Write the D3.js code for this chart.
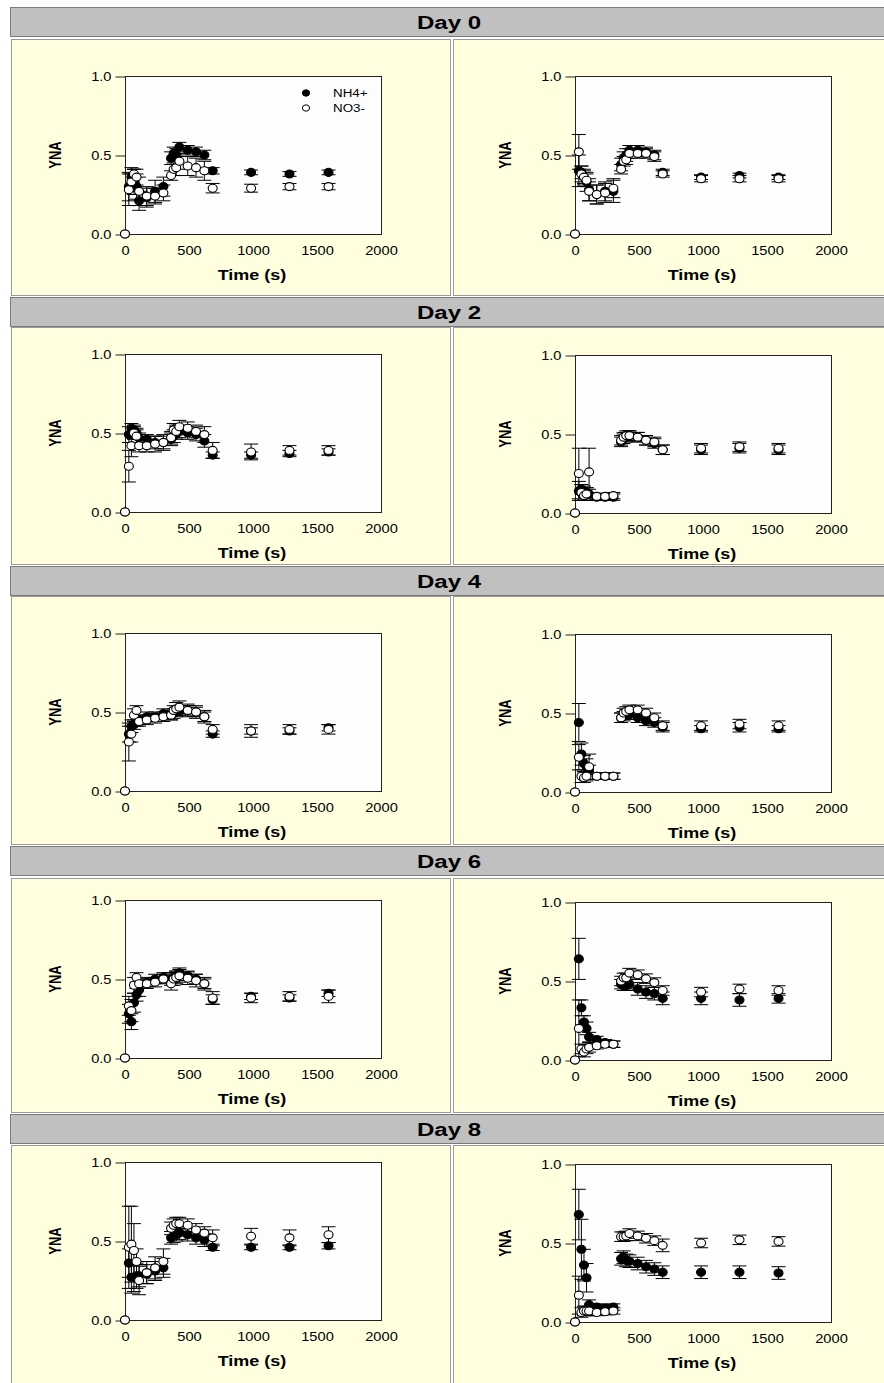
<!DOCTYPE html>
<html>
<head>
<meta charset="utf-8">
<script src="https://cdn.jsdelivr.net/npm/d3@7"></script>
<style>
  body { margin: 0; background: #fff; }
  svg { display: block; }
  text { font-family: Arial, "Liberation Sans", sans-serif; fill: #000; }
</style>
</head>
<body>
<div id="chart"></div>
<script>
// ---- data ----
const days = ["Day 0", "Day 2", "Day 4", "Day 6", "Day 8"];
const timeS = [0, 30, 50, 70, 90, 110, 170, 235, 300, 360, 380, 400, 425, 490, 555, 620, 685, 985, 1285, 1590];
const xTicks = [0, 500, 1000, 1500, 2000];
const yTicks = [0, 0.5, 1.0];
const seriesNames = ["NH4+", "NO3-"];

// a = left column, b = right column
const nh4_d0a = [0, 0.30, 0.36, 0.33, 0.30, 0.21, 0.23, 0.27, 0.30, 0.48, 0.51, 0.50, 0.55, 0.53, 0.52, 0.50, 0.40, 0.39, 0.38, 0.39];
const nh4_d0a_se = [0, 0.09, 0.06, 0.08, 0.08, 0.06, 0.06, 0.07, 0.06, 0.04, 0.04, 0.04, 0.03, 0.03, 0.03, 0.03, 0.02, 0.015, 0.015, 0.015];
const no3_d0a = [0, 0.28, 0.33, 0.38, 0.36, 0.27, 0.24, 0.24, 0.26, 0.37, 0.41, 0.42, 0.46, 0.43, 0.42, 0.40, 0.29, 0.29, 0.30, 0.30];
const no3_d0a_se = [0, 0.10, 0.05, 0.03, 0.05, 0.09, 0.06, 0.05, 0.05, 0.03, 0.04, 0.05, 0.05, 0.06, 0.06, 0.06, 0.03, 0.025, 0.02, 0.02];

const nh4_d0b = [0, 0.40, 0.39, 0.36, 0.33, 0.28, 0.25, 0.27, 0.27, 0.44, 0.48, 0.50, 0.53, 0.53, 0.52, 0.50, 0.39, 0.36, 0.37, 0.36];
const nh4_d0b_se = [0, 0.10, 0.04, 0.05, 0.06, 0.07, 0.06, 0.06, 0.07, 0.04, 0.04, 0.04, 0.03, 0.03, 0.03, 0.03, 0.02, 0.015, 0.015, 0.015];
const no3_d0b = [0, 0.52, 0.38, 0.36, 0.34, 0.27, 0.25, 0.26, 0.29, 0.41, 0.46, 0.47, 0.51, 0.51, 0.51, 0.49, 0.38, 0.35, 0.35, 0.35];
const no3_d0b_se = [0, 0.11, 0.05, 0.04, 0.04, 0.06, 0.06, 0.06, 0.06, 0.03, 0.03, 0.03, 0.03, 0.03, 0.03, 0.03, 0.02, 0.02, 0.02, 0.02];

const nh4_d2a = [0, 0.49, 0.53, 0.52, 0.50, 0.47, 0.46, 0.44, 0.44, 0.46, 0.48, 0.50, 0.51, 0.50, 0.49, 0.45, 0.36, 0.36, 0.37, 0.38];
const nh4_d2a_se = [0, 0.05, 0.03, 0.03, 0.03, 0.03, 0.03, 0.04, 0.04, 0.04, 0.04, 0.04, 0.04, 0.04, 0.04, 0.04, 0.02, 0.02, 0.02, 0.02];
const no3_d2a = [0, 0.29, 0.42, 0.50, 0.48, 0.42, 0.42, 0.43, 0.44, 0.47, 0.52, 0.51, 0.54, 0.53, 0.51, 0.49, 0.39, 0.38, 0.39, 0.39];
const no3_d2a_se = [0, 0.10, 0.07, 0.04, 0.04, 0.04, 0.04, 0.05, 0.05, 0.04, 0.04, 0.04, 0.04, 0.04, 0.04, 0.05, 0.05, 0.05, 0.03, 0.03];

const nh4_d2b = [0, 0.14, 0.15, 0.14, 0.13, 0.12, 0.10, 0.10, 0.10, 0.45, 0.47, 0.48, 0.49, 0.48, 0.46, 0.44, 0.40, 0.40, 0.41, 0.40];
const nh4_d2b_se = [0, 0.06, 0.03, 0.03, 0.03, 0.03, 0.02, 0.02, 0.02, 0.03, 0.03, 0.03, 0.03, 0.03, 0.03, 0.03, 0.03, 0.03, 0.03, 0.03];
const no3_d2b = [0, 0.25, 0.13, 0.11, 0.12, 0.26, 0.105, 0.105, 0.11, 0.46, 0.48, 0.49, 0.49, 0.48, 0.46, 0.45, 0.40, 0.41, 0.42, 0.41];
const no3_d2b_se = [0, 0.16, 0.05, 0.03, 0.04, 0.15, 0.02, 0.02, 0.02, 0.03, 0.03, 0.03, 0.03, 0.03, 0.03, 0.03, 0.03, 0.03, 0.03, 0.03];

const nh4_d4a = [0, 0.36, 0.41, 0.42, 0.44, 0.45, 0.47, 0.47, 0.49, 0.48, 0.49, 0.50, 0.51, 0.51, 0.50, 0.47, 0.36, 0.38, 0.38, 0.40];
const nh4_d4a_se = [0, 0.05, 0.04, 0.03, 0.03, 0.03, 0.03, 0.03, 0.03, 0.03, 0.03, 0.03, 0.03, 0.03, 0.03, 0.03, 0.02, 0.02, 0.02, 0.02];
const no3_d4a = [0, 0.31, 0.36, 0.48, 0.51, 0.44, 0.45, 0.46, 0.47, 0.48, 0.51, 0.52, 0.53, 0.51, 0.50, 0.47, 0.39, 0.38, 0.39, 0.39];
const no3_d4a_se = [0, 0.12, 0.05, 0.04, 0.03, 0.03, 0.03, 0.03, 0.03, 0.03, 0.03, 0.04, 0.04, 0.04, 0.04, 0.04, 0.03, 0.04, 0.03, 0.03];

const nh4_d4b = [0, 0.44, 0.24, 0.18, 0.16, 0.14, 0.10, 0.10, 0.10, 0.47, 0.48, 0.49, 0.49, 0.47, 0.45, 0.44, 0.41, 0.40, 0.41, 0.40];
const nh4_d4b_se = [0, 0.12, 0.07, 0.05, 0.05, 0.03, 0.02, 0.02, 0.02, 0.03, 0.03, 0.03, 0.03, 0.03, 0.03, 0.03, 0.03, 0.02, 0.03, 0.02];
const no3_d4b = [0, 0.22, 0.10, 0.09, 0.10, 0.16, 0.10, 0.10, 0.10, 0.47, 0.50, 0.51, 0.52, 0.52, 0.50, 0.47, 0.42, 0.42, 0.43, 0.42];
const no3_d4b_se = [0, 0.08, 0.04, 0.03, 0.03, 0.08, 0.02, 0.02, 0.02, 0.03, 0.03, 0.03, 0.03, 0.03, 0.03, 0.03, 0.03, 0.03, 0.03, 0.03];

const nh4_d6a = [0, 0.28, 0.23, 0.35, 0.40, 0.43, 0.48, 0.50, 0.51, 0.50, 0.51, 0.52, 0.54, 0.52, 0.50, 0.47, 0.37, 0.39, 0.38, 0.41];
const nh4_d6a_se = [0, 0.06, 0.05, 0.06, 0.04, 0.04, 0.03, 0.03, 0.03, 0.04, 0.03, 0.03, 0.03, 0.03, 0.03, 0.03, 0.03, 0.02, 0.02, 0.02];
const no3_d6a = [0, 0.33, 0.30, 0.46, 0.51, 0.47, 0.47, 0.48, 0.50, 0.47, 0.50, 0.51, 0.52, 0.505, 0.49, 0.47, 0.38, 0.38, 0.39, 0.39];
const no3_d6a_se = [0, 0.06, 0.07, 0.05, 0.03, 0.03, 0.03, 0.03, 0.03, 0.04, 0.04, 0.04, 0.04, 0.04, 0.04, 0.04, 0.04, 0.03, 0.03, 0.04];

const nh4_d6b = [0, 0.64, 0.33, 0.24, 0.20, 0.145, 0.13, 0.11, 0.10, 0.48, 0.47, 0.47, 0.48, 0.45, 0.43, 0.42, 0.39, 0.39, 0.38, 0.39];
const nh4_d6b_se = [0, 0.13, 0.05, 0.04, 0.04, 0.03, 0.02, 0.02, 0.02, 0.03, 0.03, 0.03, 0.03, 0.04, 0.04, 0.04, 0.04, 0.04, 0.04, 0.03];
const no3_d6b = [0, 0.20, 0.07, 0.05, 0.07, 0.08, 0.09, 0.10, 0.10, 0.50, 0.52, 0.52, 0.55, 0.54, 0.515, 0.49, 0.44, 0.43, 0.45, 0.44];
const no3_d6b_se = [0, 0.18, 0.03, 0.03, 0.03, 0.03, 0.02, 0.02, 0.02, 0.03, 0.03, 0.03, 0.03, 0.03, 0.03, 0.03, 0.03, 0.03, 0.03, 0.03];

const nh4_d8a = [0, 0.36, 0.27, 0.27, 0.28, 0.28, 0.29, 0.31, 0.33, 0.52, 0.53, 0.54, 0.55, 0.54, 0.52, 0.505, 0.46, 0.46, 0.46, 0.47];
const nh4_d8a_se = [0, 0.09, 0.10, 0.09, 0.08, 0.07, 0.06, 0.06, 0.06, 0.04, 0.04, 0.04, 0.04, 0.04, 0.04, 0.04, 0.02, 0.015, 0.015, 0.02];
const no3_d8a = [0, 0.46, 0.48, 0.44, 0.37, 0.25, 0.30, 0.33, 0.37, 0.58, 0.60, 0.61, 0.61, 0.60, 0.57, 0.55, 0.52, 0.53, 0.52, 0.54];
const no3_d8a_se = [0, 0.26, 0.24, 0.17, 0.08, 0.09, 0.07, 0.07, 0.08, 0.04, 0.04, 0.04, 0.04, 0.04, 0.04, 0.04, 0.05, 0.05, 0.05, 0.05];

const nh4_d8b = [0, 0.68, 0.46, 0.36, 0.28, 0.11, 0.095, 0.09, 0.095, 0.40, 0.41, 0.39, 0.385, 0.37, 0.35, 0.335, 0.315, 0.315, 0.315, 0.31];
const nh4_d8b_se = [0, 0.16, 0.19, 0.10, 0.09, 0.03, 0.02, 0.02, 0.02, 0.04, 0.04, 0.04, 0.04, 0.04, 0.04, 0.04, 0.04, 0.04, 0.04, 0.04];
const no3_d8b = [0, 0.17, 0.06, 0.07, 0.07, 0.07, 0.06, 0.065, 0.07, 0.54, 0.54, 0.545, 0.56, 0.545, 0.53, 0.515, 0.485, 0.50, 0.52, 0.51];
const no3_d8b_se = [0, 0.12, 0.03, 0.03, 0.03, 0.03, 0.02, 0.02, 0.02, 0.03, 0.03, 0.03, 0.03, 0.03, 0.03, 0.03, 0.04, 0.03, 0.03, 0.03];

// panels in row order: [left, right] for each day
const panelData = [
  [[nh4_d0a, nh4_d0a_se, no3_d0a, no3_d0a_se], [nh4_d0b, nh4_d0b_se, no3_d0b, no3_d0b_se]],
  [[nh4_d2a, nh4_d2a_se, no3_d2a, no3_d2a_se], [nh4_d2b, nh4_d2b_se, no3_d2b, no3_d2b_se]],
  [[nh4_d4a, nh4_d4a_se, no3_d4a, no3_d4a_se], [nh4_d4b, nh4_d4b_se, no3_d4b, no3_d4b_se]],
  [[nh4_d6a, nh4_d6a_se, no3_d6a, no3_d6a_se], [nh4_d6b, nh4_d6b_se, no3_d6b, no3_d6b_se]],
  [[nh4_d8a, nh4_d8a_se, no3_d8a, no3_d8a_se], [nh4_d8b, nh4_d8b_se, no3_d8b, no3_d8b_se]]
];

// ---- layout ----
var width = 884, height = 1383;
var headerTop = [7, 297, 566, 846, 1114], headerH = 29;
var panelTop = [39, 327, 596, 878, 1145];
var panelBottom = [295, 564, 844, 1112, 1383];
var plotTopL = [76, 354, 633, 900, 1162];
var plotTopR = [76, 355, 634, 902, 1164];
var plotLeft = [125, 575];
var plotW = 256, plotH = 158;
var SX = 1.22; // the figure is stretched horizontally

var svg = d3.select("#chart").append("svg").attr("width", width).attr("height", height);
svg.append("rect").attr("width", width).attr("height", height).attr("fill", "#fff");

days.forEach(function (day, r) {
    // panel backgrounds
    [[11, 450], [453, 890]].forEach(function (p) {
        svg.append("rect")
            .attr("x", p[0] + 0.5).attr("y", panelTop[r] + 0.5)
            .attr("width", p[1] - p[0]).attr("height", panelBottom[r] - panelTop[r])
            .attr("fill", "#ffffe0").attr("stroke", "#9a9a9a");
    });

    // header bar
    svg.append("rect")
        .attr("x", 10.5).attr("y", headerTop[r] + 0.5)
        .attr("width", 880).attr("height", headerH)
        .attr("fill", "#c0c0c0").attr("stroke", "#7a7a7a");
    svg.append("text")
        .attr("transform", "translate(449," + (headerTop[r] + 21.5) + ") scale(1.3,1)")
        .attr("text-anchor", "middle")
        .style("font-size", "18.5px").style("font-weight", "bold")
        .text(day);

    drawPanel(plotLeft[0], plotTopL[r], panelData[r][0], r == 0);
    drawPanel(plotLeft[1], plotTopR[r], panelData[r][1], false);
});

function drawPanel(left, top, vals, withLegend) {
    var x = d3.scaleLinear().domain([0, 2000]).range([left, left + plotW]);
    var y = d3.scaleLinear().domain([0, 1]).range([top + plotH, top]);
    var g = svg.append("g");

    g.append("rect")
        .attr("x", left + 0.5).attr("y", top + 0.5)
        .attr("width", plotW).attr("height", plotH)
        .attr("fill", "#fdfdfd").attr("stroke", "#222");

    // y axis
    var ya = g.append("g").attr("transform", "translate(" + (left + 0.5) + ",0.5)")
        .call(d3.axisLeft(y).tickValues(yTicks).tickSize(10).tickFormat(d3.format(".1f")));
    ya.select(".domain").remove();
    ya.selectAll("line").attr("stroke", "#222");
    ya.selectAll("text")
        .attr("x", -14 / SX).attr("dy", "0.36em")
        .attr("transform", "scale(" + SX + ",1)")
        .style("font-size", "12px").style("font-family", "Arial, 'Liberation Sans', sans-serif");

    // x axis (labels only)
    var xa = g.append("g").attr("transform", "translate(0," + (top + plotH) + ")")
        .call(d3.axisBottom(x).tickValues(xTicks).tickSize(0).tickFormat(d3.format("d")));
    xa.select(".domain").remove();
    xa.selectAll("text")
        .attr("y", 21).attr("dy", 0)
        .attr("transform", "scale(" + SX + ",1)")
        .style("font-size", "12px").style("font-family", "Arial, 'Liberation Sans', sans-serif");

    // axis titles
    g.append("text")
        .attr("transform", "translate(" + (left + 127) + "," + (top + plotH + 46) + ") scale(1.2,1)")
        .attr("text-anchor", "middle")
        .style("font-size", "15px").style("font-weight", "bold")
        .text("Time (s)");
    g.append("text")
        .attr("transform", "translate(" + (left - 68) + "," + (top + plotH / 2) + ") rotate(-90) scale(1,1.25)")
        .attr("text-anchor", "middle").attr("dominant-baseline", "middle")
        .style("font-size", "13px").style("font-weight", "bold")
        .text("YNA");

    // NH4+ first (filled), NO3- on top (open)
    [0, 1].forEach(function (s) {
        var v = vals[s * 2], se = vals[s * 2 + 1];
        var pts = timeS.map(function (t, i) { return { t: t, v: v[i], e: se[i] }; });

        var bars = g.append("g").attr("stroke", "#000").attr("stroke-width", 1);
        pts.filter(function (d) { return d.e > 0; }).forEach(function (d) {
            var cx = x(d.t);
            bars.append("line").attr("x1", cx).attr("x2", cx)
                .attr("y1", y(d.v + d.e)).attr("y2", y(Math.max(0, d.v - d.e)));
            bars.append("line").attr("x1", cx - 7).attr("x2", cx + 7)
                .attr("y1", y(d.v + d.e)).attr("y2", y(d.v + d.e));
            if (d.v - d.e > 0) {
                bars.append("line").attr("x1", cx - 7).attr("x2", cx + 7)
                    .attr("y1", y(d.v - d.e)).attr("y2", y(d.v - d.e));
            }
        });

        g.append("g").selectAll("ellipse")
            .data(pts)
            .join("ellipse")
            .attr("cx", d => x(d.t))
            .attr("cy", d => y(d.v))
            .attr("rx", 4.5).attr("ry", 4)
            .attr("fill", s == 0 ? "#000" : "#fff")
            .attr("stroke", "#000").attr("stroke-width", 1.1);
    });

    if (withLegend) {
        var lg = g.append("g");
        seriesNames.forEach(function (name, i) {
            var ly = top + 17 + i * 15;
            lg.append("ellipse")
                .attr("cx", left + 181).attr("cy", ly)
                .attr("rx", 3.6).attr("ry", 3.2)
                .attr("fill", i == 0 ? "#000" : "#fff")
                .attr("stroke", "#000").attr("stroke-width", 1);
            lg.append("text")
                .attr("transform", "translate(" + (left + 208) + "," + (ly + 4) + ") scale(" + SX + ",1)")
                .style("font-size", "11px")
                .text(name);
        });
    }
}
</script>
</body>
</html>
